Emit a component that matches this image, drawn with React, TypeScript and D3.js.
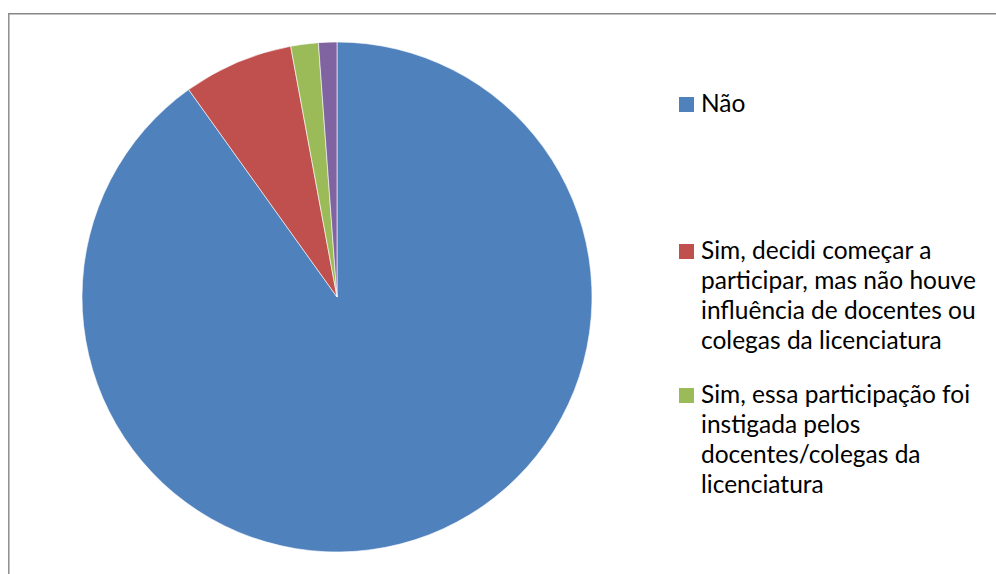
import React from "react";
import * as d3 from "d3";

const categories = [
  "Não",
  "Sim, decidi começar a participar, mas não houve influência de docentes ou colegas da licenciatura",
  "Sim, essa participação foi instigada pelos docentes/colegas da licenciatura",
  "Outro",
];
const values = [155, 12, 3, 2];
const colors = ["#4F81BD", "#C0504D", "#9BBB59", "#8064A2"];
const legendLines = [
  ["Não"],
  ["Sim, decidi começar a", "participar, mas não houve", "influência de docentes ou", "colegas da licenciatura"],
  ["Sim, essa participação foi", "instigada pelos", "docentes/colegas da", "licenciatura"],
];
const legendTop = [112, 259, 403];

export default function App() {
  const W = 996, H = 574;
  const cx = 337, cy = 297, r = 255;
  const pie = d3.pie<number>().sort(null).value((d) => d)
    .startAngle(0).endAngle(2 * Math.PI);
  const arcs = pie(values);
  const arc = d3.arc<d3.PieArcDatum<number>>().innerRadius(0).outerRadius(r);
  const font = "Lato, 'Noto Sans', sans-serif";
  return (
    <div style={{ position: "absolute", left: 0, top: 0 }}>
      <svg width={W} height={H} style={{ display: "block" }}>
        <rect width={W} height={H} fill="#fff" />
        <path d={`M8.8,${H} L8.8,13.7 L${W},13.7`} fill="none" stroke="#868686" strokeWidth={1.4} />
        <g transform={`translate(${cx},${cy})`}>
          {arcs.map((a, i) => (
            <path key={categories[i]} d={arc(a) || ""} fill={colors[i]} stroke="#fff" strokeWidth={0.6} />
          ))}
        </g>
        {legendLines.map((lines, i) => (
          <g key={i}>
            <rect x={679} y={legendTop[i] - 15} width={15} height={15} fill={colors[i]} />
            <text fontFamily={font} fontSize={24.5} fill="#000">
              {lines.map((l, j) => (
                <tspan key={j} x={701} y={legendTop[i] + j * 30}>{l}</tspan>
              ))}
            </text>
          </g>
        ))}
      </svg>
    </div>
  );
}
